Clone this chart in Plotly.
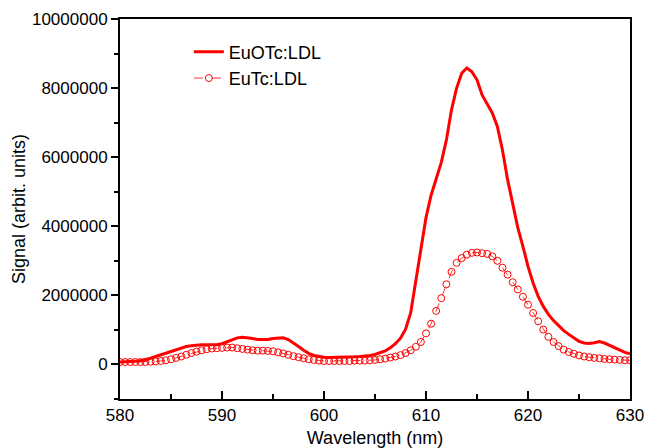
import numpy as np
import plotly.graph_objects as go

# Wavelength grid (nm), 0.5 nm steps
wavelength = np.arange(580.0, 630.0 + 0.25, 0.5)

# EuOTc:LDL emission signal (millions, arbit. units)
euotc_ldl = [
    0.07, 0.07, 0.08, 0.09, 0.11, 0.14, 0.18, 0.23, 0.28, 0.33,
    0.38, 0.43, 0.48, 0.52, 0.54, 0.56, 0.57, 0.57, 0.56, 0.57,
    0.60, 0.66, 0.72, 0.77, 0.79, 0.78, 0.75, 0.72, 0.71, 0.72,
    0.75, 0.77, 0.77, 0.72, 0.63, 0.52, 0.41, 0.32, 0.26, 0.23,
    0.21, 0.20, 0.20, 0.20, 0.20, 0.21, 0.22, 0.23, 0.24, 0.26,
    0.29, 0.33, 0.39, 0.48, 0.60, 0.76, 1.02, 1.50, 2.40, 3.30,
    4.25, 4.90, 5.40, 5.85, 6.50, 7.37, 8.00, 8.43, 8.58, 8.47,
    8.24, 7.80, 7.54, 7.28, 6.88, 6.20, 5.35, 4.68, 3.96, 3.42,
    2.84, 2.36, 1.97, 1.68, 1.45, 1.27, 1.11, 0.98, 0.87, 0.76,
    0.67, 0.62, 0.61, 0.63, 0.66, 0.62, 0.55, 0.47, 0.40, 0.35,
    0.31,
]

# EuTc:LDL emission signal (millions, arbit. units)
eutc_ldl = [
    0.07, 0.07, 0.07, 0.07, 0.07, 0.07, 0.08, 0.09, 0.10, 0.12,
    0.15, 0.19, 0.23, 0.28, 0.33, 0.37, 0.41, 0.44, 0.46, 0.47,
    0.48, 0.49, 0.49, 0.47, 0.45, 0.43, 0.41, 0.40, 0.40, 0.39,
    0.38, 0.35, 0.32, 0.28, 0.24, 0.21, 0.18, 0.15, 0.13, 0.11,
    0.10, 0.10, 0.10, 0.10, 0.10, 0.10, 0.11, 0.11, 0.11, 0.12,
    0.13, 0.15, 0.17, 0.20, 0.23, 0.27, 0.33, 0.41, 0.51, 0.65,
    0.90, 1.18, 1.55, 1.92, 2.32, 2.68, 2.94, 3.08, 3.18, 3.23,
    3.24, 3.22, 3.20, 3.13, 3.00, 2.80, 2.60, 2.38, 2.17, 1.96,
    1.73, 1.49, 1.25, 1.01, 0.80, 0.65, 0.53, 0.43, 0.36, 0.31,
    0.26, 0.23, 0.21, 0.19, 0.18, 0.16, 0.15, 0.14, 0.13, 0.12,
    0.12,
]

x_ticks = [580, 590, 600, 610, 620, 630]
y_ticks = [0, 2000000, 4000000, 6000000, 8000000, 10000000]

SCALE = 1e6
RED = "#ff0000"
FONT = "Liberation Sans, Arial, Helvetica, sans-serif"

fig = go.Figure()

fig.add_trace(go.Scatter(
    x=wavelength,
    y=np.array(euotc_ldl) * SCALE,
    mode="lines",
    name="EuOTc:LDL",
    line=dict(color=RED, width=3),
))

fig.add_trace(go.Scatter(
    x=wavelength,
    y=np.array(eutc_ldl) * SCALE,
    mode="lines+markers",
    name="EuTc:LDL",
    line=dict(color=RED, width=0.8, dash="dash"),
    marker=dict(symbol="circle-open", size=7, color=RED, line=dict(width=1, color=RED)),
))

fig.update_layout(
    width=646,
    height=448,
    margin=dict(l=120, r=16, t=19, b=49),
    paper_bgcolor="white",
    plot_bgcolor="white",
    font=dict(family=FONT, size=17, color="black"),
    showlegend=True,
    legend=dict(
        x=0.135, y=0.962, xanchor="left", yanchor="top",
        bgcolor="rgba(0,0,0,0)",
        font=dict(size=18),
        tracegroupgap=0,
    ),
)

fig.update_xaxes(
    range=[580, 630],
    automargin=False,
    tickvals=x_ticks,
    ticktext=[str(v) for v in x_ticks],
    ticks="inside",
    ticklen=8,
    tickwidth=1.5,
    tickcolor="black",
    minor=dict(dtick=5, ticks="inside", ticklen=5, tickwidth=1.5, tickcolor="black"),
    showline=True,
    linewidth=2,
    linecolor="black",
    mirror=True,
    showgrid=False,
    zeroline=False,
    title=dict(text="Wavelength (nm)", font=dict(size=18), standoff=8),
)

fig.update_yaxes(
    range=[-1000000, 10000000],
    automargin=False,
    tickvals=y_ticks,
    ticktext=[str(v) for v in y_ticks],
    ticks="outside",
    ticklen=7,
    tickwidth=1.5,
    tickcolor="black",
    minor=dict(dtick=1000000, tick0=0, ticks="outside", ticklen=4, tickwidth=1.5, tickcolor="black"),
    showline=True,
    linewidth=2,
    linecolor="black",
    mirror=True,
    showgrid=False,
    zeroline=False,
    title=dict(text="Signal (arbit. units)", font=dict(size=18), standoff=2),
)

fig.write_html("out.html")
